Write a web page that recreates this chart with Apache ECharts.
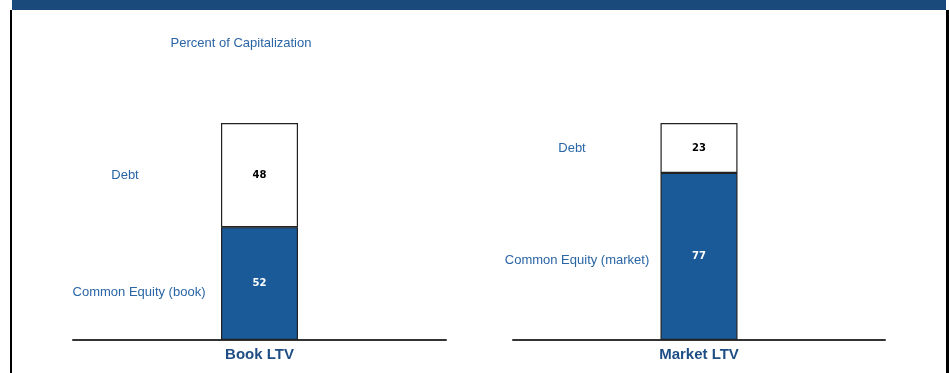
<!DOCTYPE html>
<html><head><meta charset="utf-8">
<script src="https://cdn.jsdelivr.net/npm/echarts@6/dist/echarts.min.js"></script>
<style>html,body{margin:0;padding:0;background:#fff}#c{width:949px;height:373px}</style>
</head><body><div id="c"></div>
<script>
const categoriesLeft = ['Book LTV'];
const categoriesRight = ['Market LTV'];
const equityBook = [52];
const debtBook = [48];
const equityMarket = [77];
const debtMarket = [23];
const titleText = 'Percent of Capitalization';
const leftLabels = ['Debt', 'Common Equity (book)'];
const rightLabels = ['Debt', 'Common Equity (market)'];

const blue = '#1a5a98';
const textBlue = '#2a65a5';
const chart = echarts.init(document.getElementById('c'));

function seg(name, data, xi, color, labelColor) {
  return {
    type: 'bar', name, data, stack: 's' + xi, xAxisIndex: xi, yAxisIndex: xi,
    barWidth: 77,
    itemStyle: { color, borderColor: '#222', borderWidth: 1.2 },
    label: { show: true, position: 'inside', color: labelColor, fontSize: 10, fontWeight: 'bold', fontFamily: 'DejaVu Sans' },
    silent: true
  };
}
const catAxis = (data, gi) => ({
  type: 'category', data, gridIndex: gi,
  axisLine: { lineStyle: { color: '#333', width: 2 } },
  axisTick: { show: false },
  axisLabel: { color: '#1f4e85', fontWeight: 'bold', fontSize: 15, fontFamily: 'Liberation Sans', margin: 7 }
});
const valAxis = (gi) => ({ type: 'value', gridIndex: gi, min: 0, max: 100, show: false });

chart.setOption({
  animation: false,
  grid: [
    { left: 73, width: 373, top: 123, bottom: 33 },
    { left: 513, width: 372, top: 123, bottom: 33 }
  ],
  xAxis: [catAxis(categoriesLeft, 0), catAxis(categoriesRight, 1)],
  yAxis: [valAxis(0), valAxis(1)],
  series: [
    seg('Common Equity (book)', equityBook, 0, blue, '#fff'),
    seg('Debt', debtBook, 0, '#fff', '#000'),
    seg('Common Equity (market)', equityMarket, 1, blue, '#fff'),
    seg('Debt', debtMarket, 1, '#fff', '#000')
  ]
});

const txt = (text, x, y) => ({ type: 'text', x, y, style: { text, fill: textBlue, fontSize: 13, fontFamily: 'Liberation Sans', align: 'center', verticalAlign: 'middle' } });
function sideLabels(labels, cat, debt, eq, gi, cx, extra) {
  const yDebt = chart.convertToPixel({ gridIndex: gi }, [cat, eq + debt / 2])[1];
  const yEq = chart.convertToPixel({ gridIndex: gi }, [cat, eq / 2])[1];
  return [txt(labels[0], cx[0], yDebt), txt(labels[1], cx[1], yEq + extra)];
}
chart.setOption({
  graphic: [
    { type: 'rect', shape: { x: 12, y: 0, width: 934, height: 10 }, style: { fill: '#1a4a7c' } },
    { type: 'rect', shape: { x: 10, y: 10, width: 2, height: 363 }, style: { fill: '#000' } },
    { type: 'rect', shape: { x: 946, y: 10, width: 3, height: 363 }, style: { fill: '#000' } },
    txt(titleText, 241, 43),
    ...sideLabels(leftLabels, categoriesLeft[0], debtBook[0], equityBook[0], 0, [125, 139], 9),
    ...sideLabels(rightLabels, categoriesRight[0], debtMarket[0], equityMarket[0], 1, [572, 577], 4)
  ]
});
</script></body></html>
